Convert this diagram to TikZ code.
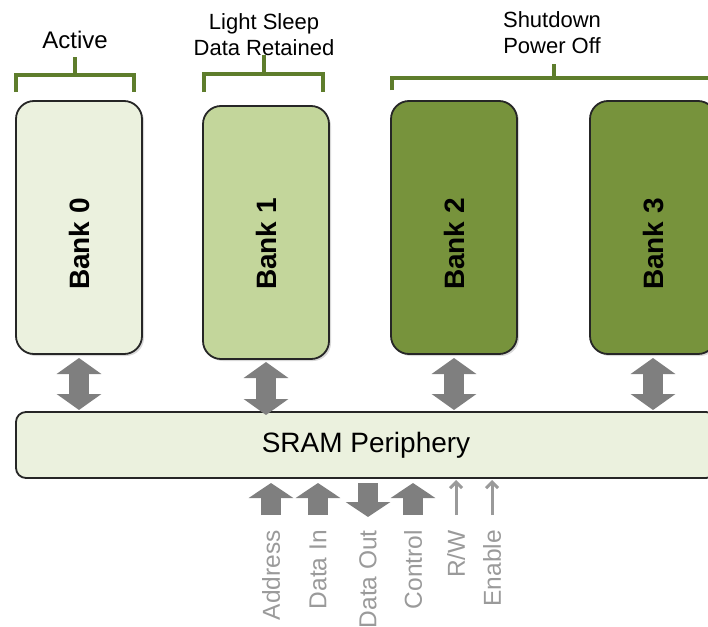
\documentclass[tikz,border=0pt]{standalone}
\usepackage{fontspec}
\setmainfont{Liberation Sans}
\usetikzlibrary{positioning, arrows.meta, shadows}

\definecolor{activefill}{HTML}{EBF1DE}
\definecolor{sleepfill}{HTML}{C3D69B}
\definecolor{offfill}{HTML}{77933C}
\definecolor{bracegreen}{HTML}{5E7D2C}
\definecolor{arrowgray}{HTML}{7F7F7F}
\definecolor{labelgray}{HTML}{9A9A9A}

\tikzset{
  bank/.style={draw=black!85, line width=1.8pt, rounded corners=18pt,
    minimum width=126pt, minimum height=253pt, inner sep=0pt, outer sep=0pt,
    drop shadow={shadow xshift=2pt, shadow yshift=-2pt, opacity=0.3}},
  banklabel/.style={rotate=90, inner sep=0pt, font=\fontsize{28}{30}\selectfont\bfseries},
  banklink/.style={arrowgray, line width=20pt,
    {Triangle[length=16pt,width=44pt]}-{Triangle[length=16pt,width=44pt]}},
  state/.style={align=center, font=\fontsize{22}{26}\selectfont},
  brace/.style={bracegreen, line width=3.4pt},
  sigwide/.style={arrowgray, line width=20pt, -{Triangle[length=15pt,width=44pt]}},
  signarrow/.style={labelgray, line width=3pt, -{Straight Barb[length=6pt,width=12pt]}},
  siglabel/.style={rotate=90, anchor=east, inner sep=0pt, labelgray,
    font=\fontsize{24.5}{26}\selectfont},
}

\begin{document}
\begin{tikzpicture}[x=1pt, y=-1pt]
  \useasboundingbox (0,0) rectangle (708,626);
  \clip (0,0) rectangle (708,626);

  % memory banks
  \node[bank, fill=activefill, anchor=north west] (b0) at (16,101) {};
  \node[bank, fill=sleepfill, right=61pt of b0, yshift=-5pt] (b1) {};
  \node[bank, fill=offfill, right=62pt of b1, yshift=5pt] (b2) {};
  \node[bank, fill=offfill, right=73pt of b2] (b3) {};
  \coordinate (mid) at (0,244);
  \foreach \b/\n in {b0/0, b1/1, b2/2, b3/3}
    \node[banklabel] at (\b.center |- mid) {Bank \n};

  % periphery
  \node[draw=black!85, line width=1.8pt, fill=activefill, rounded corners=10pt,
    minimum width=700pt, minimum height=66pt, inner sep=0pt, outer sep=0pt,
    font=\fontsize{28}{30}\selectfont,
    below=58pt of b0.south west, anchor=north west] (peri) {SRAM Periphery};

  \foreach \b in {b0, b2, b3}
    \draw[banklink, shorten <=4pt, shorten >=2pt] (\b.south) -- (\b.south |- peri.north);
  \draw[banklink, shorten <=3pt, shorten >=-3pt] (b1.south) -- (b1.south |- peri.north);

  % power states
  \node[state, font=\fontsize{24}{26}\selectfont] (active) at (75,40) {Active};
  \node[state] (sleep) at (264,35) {Light Sleep\\Data Retained};
  \node[state] (off) at (552,33) {Shutdown\\Power Off};
  \draw[brace] (16,92) -- (16,75) -- (134,75) -- (134,92) (75,75) -- (75,57);
  \draw[brace] (204,92) -- (204,74) -- (323,74) -- (323,92) (264,74) -- (264,55);
  \draw[brace] (392,90) -- (392,78) -- (720,78) (554,78) -- (554,64);

  % interface signals
  \node[siglabel] (addr) at (271,530) {Address};
  \node[siglabel] (din) at (318,530) {Data In};
  \node[siglabel] (dout) at (368,530) {Data Out};
  \node[siglabel] (ctrl) at (413,530) {Control};
  \node[siglabel] (rw) at (456,530) {R/W};
  \node[siglabel] (en) at (492,530) {Enable};
  \foreach \s in {addr, din, ctrl}
    \draw[sigwide, shorten <=15pt, shorten >=5pt] (\s.east) -- (\s.east |- peri.south);
  \draw[sigwide, shorten <=5pt, shorten >=13pt] (dout.east |- peri.south) -- (dout.east);
  \foreach \s in {rw, en}
    \draw[signarrow, shorten <=15pt, shorten >=2pt] (\s.east) -- (\s.east |- peri.south);
\end{tikzpicture}
\end{document}
